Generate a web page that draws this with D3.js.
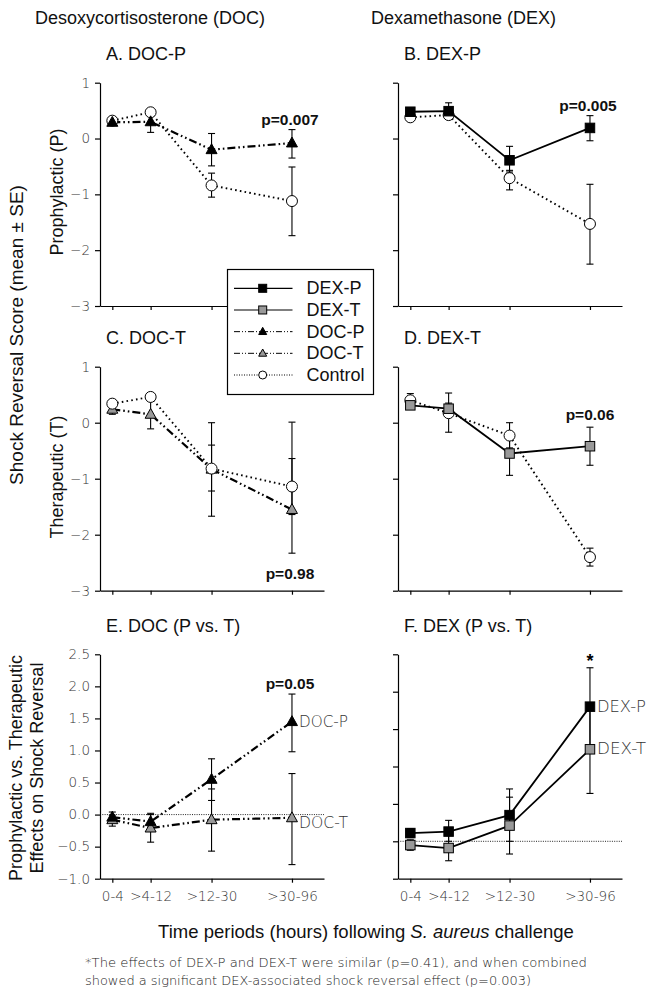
<!DOCTYPE html>
<html><head><meta charset="utf-8">
<script src="https://cdn.jsdelivr.net/npm/d3@7"></script>
<style>
html,body{margin:0;padding:0;background:#fff;}
svg{display:block;font-family:"Liberation Sans",Arial,sans-serif;}
</style></head>
<body>
<svg id="chart" width="656" height="994"></svg>
<script>
// ---------- DATA ----------
const categories = ["0-4", ">4-12", ">12-30", ">30-96"];
const xPositions = [5.5, 22.6, 49.8, 85.7];   // positions of the time periods on the x axis (0-100)

// Panel A: DOC prophylactic
const docP_A = [0.29, 0.30, -0.20, -0.08];
const docP_A_lo = [0.29, 0.11, -0.49, -0.35];
const docP_A_hi = [0.29, 0.44, 0.09, 0.16];
const ctrl_A = [0.32, 0.47, -0.84, -1.12];
const ctrl_A_lo = [0.32, 0.47, -1.05, -1.74];
const ctrl_A_hi = [0.32, 0.47, -0.62, -0.51];

// Panel B: DEX prophylactic
const dexP_B = [0.48, 0.49, -0.39, 0.19];
const dexP_B_lo = [0.44, 0.38, -0.60, -0.04];
const dexP_B_hi = [0.52, 0.64, -0.14, 0.41];
const ctrl_B = [0.38, 0.42, -0.71, -1.53];
const ctrl_B_lo = [0.38, 0.42, -0.92, -2.25];
const ctrl_B_hi = [0.38, 0.42, -0.57, -0.82];

// Panel C: DOC therapeutic
const docT_C = [0.24, 0.15, -0.83, -1.55];
const docT_C_lo = [0.15, -0.11, -1.67, -2.33];
const docT_C_hi = [0.31, 0.40, 0.00, 0.01];
const ctrl_C = [0.34, 0.46, -0.82, -1.14];
const ctrl_C_lo = [0.34, 0.46, -1.22, -1.64];
const ctrl_C_hi = [0.34, 0.46, -0.40, -0.64];

// Panel D: DEX therapeutic
const dexT_D = [0.31, 0.25, -0.55, -0.42];
const dexT_D_lo = [0.27, 0.15, -0.94, -0.76];
const dexT_D_hi = [0.35, 0.35, -0.20, -0.08];
const ctrl_D = [0.40, 0.17, -0.23, -2.40];
const ctrl_D_lo = [0.30, -0.17, -0.45, -2.56];
const ctrl_D_hi = [0.52, 0.53, 0.00, -2.24];

// Panel E: DOC (P vs. T)
const docP_E = [-0.04, -0.11, 0.55, 1.45];
const docP_E_lo = [-0.12, -0.20, 0.22, 0.98];
const docP_E_hi = [0.04, 0.00, 0.87, 1.88];
const docT_E = [-0.08, -0.21, -0.08, -0.05];
const docT_E_lo = [-0.18, -0.43, -0.57, -0.78];
const docT_E_hi = [-0.01, 0.02, 0.40, 0.64];

// Panel F: DEX (P vs. T)
const dexP_F = [0.11, 0.13, 0.35, 1.80];
const dexP_F_lo = [0.05, 0.00, 0.00, 1.28];
const dexP_F_hi = [0.17, 0.28, 0.70, 2.32];
const dexT_F = [-0.05, -0.09, 0.21, 1.23];
const dexT_F_lo = [-0.12, -0.26, -0.17, 0.64];
const dexT_F_hi = [0.02, 0.08, 0.59, 1.78];

const ticksTop = [-3, -2, -1, 0, 1];
const ticksE = [-1.0, -0.5, 0.0, 0.5, 1.0, 1.5, 2.0, 2.5];
const ticksF = [-0.5, 0.0, 0.5, 1.0, 1.5, 2.0, 2.5];

const legendNames = ["DEX-P", "DEX-T", "DOC-P", "DOC-T", "Control"];

// ---------- LAYOUT / STYLE ----------
const svg = d3.select("#chart");
const colX = [100, 398];
const plotW = 224;
const rowY = [[82.7, 306], [366.7, 590.7], [654.3, 878.7]];
const titleX = [106, 404];

const styles = {
  "DEX-P":  {dash: null, width: 1.8, shape: "square", fill: "#000"},
  "DEX-T":  {dash: null, width: 1.8, shape: "square", fill: "#999"},
  "DOC-P":  {dash: "8,3,1.6,3,1.6,3", width: 2.2, shape: "triangle", fill: "#000"},
  "DOC-T":  {dash: "8,3,1.6,3,1.6,3", width: 2.2, shape: "triangle", fill: "#999"},
  "Control":{dash: "1.6,3.2", width: 1.9, shape: "circle", fill: "#fff"}
};

function S(name, mean, lo, hi) { return {name, mean, lo, hi}; }

const panels = [
  {col:0, row:0, domain:[-3,1], ticks:ticksTop, labels:true, title:"A. DOC-P",
   series:[S("Control", ctrl_A, ctrl_A_lo, ctrl_A_hi), S("DOC-P", docP_A, docP_A_lo, docP_A_hi)],
   note:{text:"p=0.007", x:290, y:119}},
  {col:1, row:0, domain:[-3,1], ticks:ticksTop, labels:false, title:"B. DEX-P",
   series:[S("Control", ctrl_B, ctrl_B_lo, ctrl_B_hi), S("DEX-P", dexP_B, dexP_B_lo, dexP_B_hi)],
   note:{text:"p=0.005", x:588, y:105}},
  {col:0, row:1, domain:[-3,1], ticks:ticksTop, labels:true, title:"C. DOC-T",
   series:[S("DOC-T", docT_C, docT_C_lo, docT_C_hi), S("Control", ctrl_C, ctrl_C_lo, ctrl_C_hi)],
   note:{text:"p=0.98", x:290, y:573}},
  {col:1, row:1, domain:[-3,1], ticks:ticksTop, labels:false, title:"D. DEX-T",
   series:[S("Control", ctrl_D, ctrl_D_lo, ctrl_D_hi), S("DEX-T", dexT_D, dexT_D_lo, dexT_D_hi)],
   note:{text:"p=0.06", x:590, y:414}},
  {col:0, row:2, domain:[-1,2.5], ticks:ticksE, labels:true, title:"E. DOC (P vs. T)", zero:true,
   series:[S("DOC-T", docT_E, docT_E_lo, docT_E_hi), S("DOC-P", docP_E, docP_E_lo, docP_E_hi)],
   note:{text:"p=0.05", x:290, y:683},
   endLabels:[{name:"DOC-P", idx:3, dy:0}, {name:"DOC-T", idx:3, dy:5}]},
  {col:1, row:2, domain:[-0.5,2.5], ticks:ticksF, labels:false, title:"F. DEX (P vs. T)", zero:true,
   series:[S("DEX-T", dexT_F, dexT_F_lo, dexT_F_hi), S("DEX-P", dexP_F, dexP_F_lo, dexP_F_hi)],
   star:{idx:3},
   endLabels:[{name:"DEX-P", idx:3, dy:0}, {name:"DEX-T", idx:3, dy:0}]}
];

function drawMarker(g, shape, cx, cy, fill, size) {
  if (shape === "square") {
    const s = size || 9.5;
    g.append("rect").attr("x", cx - s/2).attr("y", cy - s/2).attr("width", s).attr("height", s)
      .attr("fill", fill).attr("stroke", "#000").attr("stroke-width", 1);
  } else if (shape === "triangle") {
    const s = size || 11;
    const h = s * 0.9;
    g.append("path").attr("d", `M${cx},${cy - h*0.6}L${cx + s/2},${cy + h*0.4}L${cx - s/2},${cy + h*0.4}Z`)
      .attr("fill", fill).attr("stroke", "#000").attr("stroke-width", 1);
  } else {
    g.append("circle").attr("cx", cx).attr("cy", cy).attr("r", (size || 11)/2)
      .attr("fill", fill).attr("stroke", "#000").attr("stroke-width", 1);
  }
}

const thinFont = "'DejaVu Sans', sans-serif";

panels.forEach(p => {
  const x0 = colX[p.col];
  const [yTop, yBot] = rowY[p.row];
  const x = d3.scaleLinear().domain([0, 100]).range([x0, x0 + plotW]);
  const y = d3.scaleLinear().domain(p.domain).range([yBot, yTop]);
  const g = svg.append("g");

  // title
  g.append("text").attr("x", titleX[p.col]).attr("y", yTop - 28.5).attr("dominant-baseline", "central")
    .attr("font-size", 18).attr("fill", "#111").text(p.title);

  // zero line
  if (p.zero) {
    g.append("line").attr("x1", x0).attr("x2", x0 + plotW).attr("y1", y(0)).attr("y2", y(0))
      .attr("stroke", "#222").attr("stroke-width", 1).attr("stroke-dasharray", "1,1.3");
  }

  // axes
  const yAxis = d3.axisLeft(y).tickValues(p.ticks).tickSize(5).tickSizeOuter(0)
    .tickFormat(p.labels ? (p.row === 2 ? d3.format(".1f") : d3.format("d")) : "");
  const ya = g.append("g").attr("transform", `translate(${x0},0)`).call(yAxis);
  ya.selectAll("text").attr("font-size", 13.5).attr("fill", "#333")
    .attr("font-family", thinFont).attr("font-weight", 200).attr("dx", -2);
  ya.select(".domain").attr("stroke", "#000").attr("stroke-width", 1.2);
  ya.selectAll(".tick line").attr("stroke", "#000").attr("stroke-width", 1.2);

  const xAxis = d3.axisBottom(x).tickValues(xPositions).tickSize(4).tickSizeOuter(0)
    .tickFormat(p.row === 2 ? ((d, i) => categories[i]) : "");
  const xa = g.append("g").attr("transform", `translate(0,${yBot})`).call(xAxis);
  xa.selectAll("text").attr("font-size", 13.5).attr("fill", "#333").attr("dy", "1.15em")
    .attr("font-family", thinFont).attr("font-weight", 200);
  xa.select(".domain").attr("stroke", "#000").attr("stroke-width", 1.2);
  xa.selectAll(".tick line").attr("stroke", "#000").attr("stroke-width", 1.2);

  // lines
  const line = d3.line().x((d, i) => x(xPositions[i])).y(d => y(d));
  p.series.forEach(s => {
    const st = styles[s.name];
    g.append("path").datum(s.mean).attr("d", line).attr("fill", "none").attr("stroke", "#000")
      .attr("stroke-width", st.width).attr("stroke-dasharray", st.dash);
  });
  // error bars
  p.series.forEach(s => {
    s.mean.forEach((m, i) => {
      if (s.lo[i] === s.hi[i]) return;
      const cx = x(xPositions[i]);
      g.append("line").attr("x1", cx).attr("x2", cx).attr("y1", y(s.lo[i])).attr("y2", y(s.hi[i]))
        .attr("stroke", "#000").attr("stroke-width", 1.1);
      [s.lo[i], s.hi[i]].forEach(v => {
        g.append("line").attr("x1", cx - 3.5).attr("x2", cx + 3.5).attr("y1", y(v)).attr("y2", y(v))
          .attr("stroke", "#000").attr("stroke-width", 1.1);
      });
    });
  });
  // markers
  p.series.forEach(s => {
    const st = styles[s.name];
    s.mean.forEach((m, i) => drawMarker(g, st.shape, x(xPositions[i]), y(m), st.fill));
  });

  if (p.note) {
    g.append("text").attr("x", p.note.x).attr("y", p.note.y).attr("text-anchor", "middle")
      .attr("dominant-baseline", "central").attr("font-size", 15.5).attr("font-weight", "bold")
      .attr("fill", "#111").text(p.note.text);
  }
  if (p.star) {
    const s = p.series.find(d => d.name === "DEX-P");
    g.append("text").attr("x", x(xPositions[p.star.idx])).attr("y", y(s.hi[p.star.idx]) - 1)
      .attr("text-anchor", "middle").attr("font-size", 18).attr("font-weight", "bold").text("*");
  }
  if (p.endLabels) {
    p.endLabels.forEach(l => {
      const s = p.series.find(d => d.name === l.name);
      g.append("text").attr("x", x(xPositions[l.idx]) + 7).attr("y", y(s.mean[l.idx]) + l.dy)
        .attr("dominant-baseline", "central").attr("font-size", 15.5).attr("fill", "#333")
        .attr("font-family", thinFont).attr("font-weight", 200)
        .attr("textLength", 49).attr("lengthAdjust", "spacingAndGlyphs")
        .text(l.name);
    });
  }
});

// ---------- LEGEND ----------
const leg = svg.append("g");
leg.append("rect").attr("x", 227.5).attr("y", 269.5).attr("width", 146).attr("height", 125)
  .attr("fill", "#fff").attr("stroke", "#000").attr("stroke-width", 1.2);
const legY = d3.scalePoint().domain(legendNames).range([288.3, 375]);
legendNames.forEach(n => {
  const st = styles[n];
  const yy = legY(n);
  leg.append("line").attr("x1", 234).attr("x2", 292.5).attr("y1", yy).attr("y2", yy)
    .attr("stroke", "#000").attr("stroke-width", st.dash ? 1 : 1.2)
    .attr("stroke-dasharray", n === "Control" ? "1,1.5" : (st.dash ? "6,2,1,2,1,2" : null));
  drawMarker(leg, st.shape, 262.7, yy, st.fill, 8);
  leg.append("text").attr("x", 306.5).attr("y", yy).attr("dominant-baseline", "central")
    .attr("font-size", 18).attr("fill", "#111").text(n);
});

// ---------- TEXT ----------
svg.append("text").attr("x", 35).attr("y", 18).attr("dominant-baseline", "central")
  .attr("font-size", 18).attr("fill", "#111").text("Desoxycortisosterone (DOC)");
svg.append("text").attr("x", 371).attr("y", 18).attr("dominant-baseline", "central")
  .attr("font-size", 18).attr("fill", "#111").text("Dexamethasone (DEX)");

function vtext(x, y, txt, size) {
  svg.append("text").attr("transform", `translate(${x},${y}) rotate(-90)`)
    .attr("text-anchor", "middle").attr("dominant-baseline", "central")
    .attr("font-size", size).attr("fill", "#111").text(txt);
}
vtext(16, 335, "Shock Reversal Score (mean ± SE)", 19);
vtext(57, 192, "Prophylactic (P)", 18);
vtext(57, 477, "Therapeutic (T)", 18);
vtext(16, 768, "Prophylactic vs. Therapeutic", 18);
vtext(37, 768, "Effects on Shock Reversal", 18);

const xt = svg.append("text").attr("x", 366).attr("y", 931).attr("text-anchor", "middle")
  .attr("dominant-baseline", "central").attr("font-size", 18.5).attr("fill", "#111");
xt.append("tspan").text("Time periods (hours) following ");
xt.append("tspan").attr("font-style", "italic").text("S. aureus");
xt.append("tspan").text(" challenge");

svg.append("text").attr("x", 85).attr("y", 967).attr("font-size", 13).attr("fill", "#222")
  .attr("font-family", thinFont).attr("font-weight", 200)
  .attr("textLength", 502).attr("lengthAdjust", "spacingAndGlyphs")
  .text("*The effects of DEX-P and DEX-T were similar (p=0.41), and when combined");
svg.append("text").attr("x", 85).attr("y", 985).attr("font-size", 13).attr("fill", "#222")
  .attr("font-family", thinFont).attr("font-weight", 200)
  .attr("textLength", 446).attr("lengthAdjust", "spacingAndGlyphs")
  .text("showed a significant DEX-associated shock reversal effect (p=0.003)");
</script>
</body></html>
